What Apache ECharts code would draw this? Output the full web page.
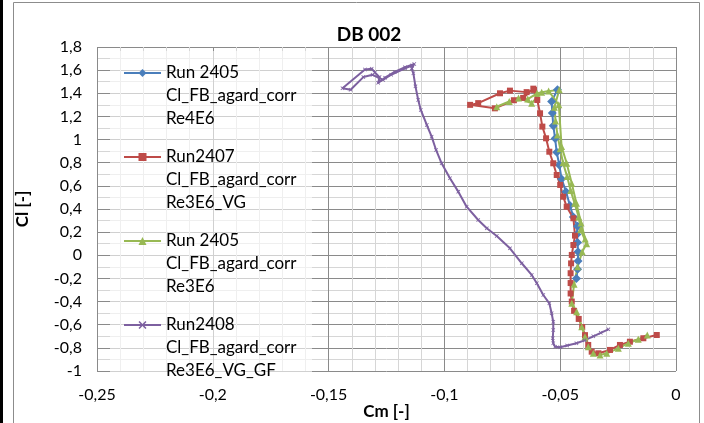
<!DOCTYPE html>
<html>
<head>
<meta charset="utf-8">
<script src="https://cdn.jsdelivr.net/npm/echarts@6/dist/echarts.min.js"></script>
<style>
  html, body { margin: 0; padding: 0; background: #ffffff; }
  #chart { width: 704px; height: 423px; }
</style>
</head>
<body>
<div id="chart"></div>
<script>
// Axis ranges and tick labels (decimal comma)
const xMin = -0.25, xMax = 0, xStep = 0.05;
const yMin = -1, yMax = 1.8, yStep = 0.2;
const xTickLabels = ['-0,25', '-0,2', '-0,15', '-0,1', '-0,05', '0'];
const yTickLabels = ['-1', '-0,8', '-0,6', '-0,4', '-0,2', '0', '0,2', '0,4', '0,6', '0,8', '1', '1,2', '1,4', '1,6', '1,8'];

const seriesNames = [
  'Run 2405\nCl_FB_agard_corr\nRe4E6',
  'Run2407\nCl_FB_agard_corr\nRe3E6_VG',
  'Run 2405\nCl_FB_agard_corr\nRe3E6',
  'Run2408\nCl_FB_agard_corr\nRe3E6_VG_GF'
];

// Run 2405, Re 4E6
const run2405Re4Cm = [-0.0430, -0.0425, -0.0423, -0.0423, -0.0425, -0.0428, -0.0425, -0.0443, -0.0458, -0.0475, -0.0494, -0.0504, -0.0515, -0.0522, -0.0530, -0.0534, -0.0537, -0.0512];
const run2405Re4Cl = [-0.20, -0.12, -0.05, 0.03, 0.11, 0.18, 0.25, 0.33, 0.43, 0.55, 0.66, 0.78, 0.89, 1.01, 1.12, 1.23, 1.33, 1.43];

// Run 2407, Re 3E6, VG
const run2407Cm = [-0.0083, -0.0141, -0.0199, -0.0242, -0.0285, -0.0335, -0.0364, -0.0379, -0.0393, -0.0405, -0.0420, -0.0440, -0.0450, -0.0455, -0.0455, -0.0455, -0.0453, -0.0450, -0.0443, -0.0436, -0.0443, -0.0472, -0.0487, -0.0500, -0.0515, -0.0530, -0.0547, -0.0561, -0.0577, -0.0587, -0.0599, -0.0613, -0.0645, -0.0717, -0.0760, -0.0854, -0.0889, -0.0782, -0.0700, -0.0660, -0.0616];
const run2407Cl = [-0.689, -0.717, -0.747, -0.775, -0.818, -0.847, -0.833, -0.775, -0.690, -0.620, -0.550, -0.480, -0.400, -0.330, -0.240, -0.155, -0.070, 0.003, 0.089, 0.170, 0.320, 0.420, 0.506, 0.608, 0.694, 0.795, 0.895, 1.011, 1.112, 1.227, 1.342, 1.429, 1.410, 1.423, 1.400, 1.315, 1.300, 1.270, 1.340, 1.360, 1.440];

// Run 2405, Re 3E6
const run2405Re3Cm = [-0.0124, -0.0163, -0.0206, -0.0249, -0.0299, -0.0328, -0.0357, -0.0379, -0.0393, -0.0407, -0.0429, -0.0450, -0.0440, -0.0425, -0.0405, -0.0386, -0.0412, -0.0420, -0.0438, -0.0455, -0.0470, -0.0488, -0.0500, -0.0512, -0.0520, -0.0525, -0.0504, -0.0580, -0.0623, -0.0680, -0.0774, -0.0720, -0.0640, -0.0600, -0.0550, -0.0506, -0.0494, -0.0472, -0.0450, -0.0430, -0.0410, -0.0392];
const run2405Re3Cl = [-0.689, -0.726, -0.760, -0.804, -0.847, -0.862, -0.847, -0.790, -0.704, -0.617, -0.487, -0.415, -0.250, -0.100, 0.030, 0.100, 0.220, 0.330, 0.450, 0.560, 0.680, 0.800, 0.920, 1.040, 1.160, 1.280, 1.430, 1.410, 1.314, 1.360, 1.284, 1.330, 1.350, 1.400, 1.420, 1.300, 0.940, 0.795, 0.620, 0.450, 0.280, 0.140];

// Run 2408, Re 3E6, VG + GF
const run2408Cm = [-0.0292, -0.0325, -0.0357, -0.0395, -0.0430, -0.0470, -0.0500, -0.0522, -0.0530, -0.0532, -0.0530, -0.0530, -0.0537, -0.0547, -0.0573, -0.0601, -0.0623, -0.0666, -0.0717, -0.0774, -0.0817, -0.0854, -0.0904, -0.0940, -0.0976, -0.1012, -0.1036, -0.1055, -0.1076, -0.1102, -0.1113, -0.1125, -0.1134, -0.1141, -0.1130, -0.1170, -0.1215, -0.1256, -0.1286, -0.1280, -0.1300, -0.1314, -0.1343, -0.1440, -0.1405, -0.1350, -0.1310, -0.1265, -0.1230, -0.1170, -0.1140];
const run2408Cl = [-0.640, -0.670, -0.700, -0.735, -0.760, -0.780, -0.795, -0.790, -0.760, -0.717, -0.646, -0.574, -0.501, -0.415, -0.343, -0.242, -0.170, -0.069, 0.060, 0.167, 0.233, 0.305, 0.420, 0.550, 0.666, 0.795, 0.910, 1.025, 1.126, 1.256, 1.342, 1.460, 1.573, 1.615, 1.653, 1.625, 1.585, 1.535, 1.490, 1.540, 1.580, 1.612, 1.605, 1.443, 1.430, 1.540, 1.560, 1.515, 1.560, 1.615, 1.640];

const colors = ['#4A7EBB', '#BE4B48', '#98B954', '#7D60A0'];
const crossSymbol = 'path://M0,1.4L1.4,0L5,3.6L8.6,0L10,1.4L6.4,5L10,8.6L8.6,10L5,6.4L1.4,10L0,8.6L3.6,5Z';

function pairs(xs, ys) { return xs.map((x, i) => [x, ys[i]]); }

const font = 'Lato, "Noto Sans", sans-serif';

function lineSeries(name, data, color, symbol, size) {
  return {
    name: name,
    type: 'line',
    data: data,
    color: color,
    symbol: symbol,
    symbolSize: size,
    showSymbol: true,
    showAllSymbol: true,
    lineStyle: { color: color, width: 2 },
    itemStyle: { color: color },
    emphasis: { disabled: true },
    animation: false
  };
}

const chart = echarts.init(document.getElementById('chart'), null, { renderer: 'canvas' });
chart.setOption({
  animation: false,
  backgroundColor: '#ffffff',
  title: {
    text: 'DB 002',
    left: 364,
    top: 20,
    textAlign: 'center',
    textStyle: { fontFamily: font, fontSize: 19, fontWeight: 'bold', color: '#000' }
  },
  graphic: [
    { type: 'rect', z: -10, shape: { x: 0, y: 0, width: 3, height: 423 }, style: { fill: '#000' }, silent: true },
    { type: 'rect', z: -10, shape: { x: 13.5, y: 2.5, width: 686, height: 440 }, style: { fill: 'none', stroke: '#8c8c8c', lineWidth: 1 }, silent: true },
    { type: 'rect', z: 1, shape: { x: 110, y: 51, width: 202, height: 326 }, style: { fill: 'rgba(255,255,255,0.6)' }, silent: true }
  ],
  grid: { left: 97, right: 28, top: 47, bottom: 52, containLabel: false, outerBoundsMode: 'none' },
  legend: {
    orient: 'vertical',
    left: 123,
    top: 15.5,
    padding: 0,
    itemGap: -31,
    itemWidth: 37,
    itemHeight: 10,
    selectedMode: false,
    data: seriesNames,
    // two leading blank lines keep the marker level with the first text line
    formatter: name => '\n\n' + name,
    textStyle: { fontFamily: font, fontSize: 17, lineHeight: 23, color: '#000' }
  },
  xAxis: {
    type: 'value',
    min: xMin, max: xMax, interval: xStep,
    name: 'Cm [-]',
    nameLocation: 'middle',
    nameGap: 32,
    nameMoveOverlap: false,
    nameTextStyle: { fontFamily: font, fontSize: 17, fontWeight: 'bold', color: '#000' },
    axisLine: { show: false },
    axisTick: { show: false },
    axisLabel: {
      margin: 16,
      fontFamily: font, fontSize: 16, color: '#000',
      formatter: v => xTickLabels[Math.round((v - xMin) / xStep)]
    },
    splitLine: { show: true, lineStyle: { color: '#8a8a8a', width: 1 } },
    minorTick: { show: false, splitNumber: 5 },
    minorSplitLine: { show: true, lineStyle: { color: '#d6d6d6', width: 1 } }
  },
  yAxis: {
    type: 'value',
    min: yMin, max: yMax, interval: yStep,
    name: 'Cl [-]',
    nameLocation: 'middle',
    nameGap: 66,
    nameRotate: 90,
    nameMoveOverlap: false,
    nameTextStyle: { fontFamily: font, fontSize: 17, fontWeight: 'bold', color: '#000' },
    axisLine: { show: false },
    axisTick: { show: true, length: 8, lineStyle: { color: '#8a8a8a' } },
    axisLabel: {
      margin: 15,
      fontFamily: font, fontSize: 16, color: '#000',
      formatter: v => yTickLabels[Math.round((v - yMin) / yStep)]
    },
    splitLine: { show: true, lineStyle: { color: '#8a8a8a', width: 1 } },
    minorTick: { show: false, splitNumber: 2 },
    minorSplitLine: { show: true, lineStyle: { color: '#d6d6d6', width: 1 } }
  },
  series: [
    lineSeries(seriesNames[0], pairs(run2405Re4Cm, run2405Re4Cl), colors[0], 'diamond', 9),
    lineSeries(seriesNames[1], pairs(run2407Cm, run2407Cl), colors[1], 'rect', 6),
    lineSeries(seriesNames[2], pairs(run2405Re3Cm, run2405Re3Cl), colors[2], 'triangle', 7),
    lineSeries(seriesNames[3], pairs(run2408Cm, run2408Cl), colors[3], crossSymbol, 4)
  ]
});
</script>
</body>
</html>
